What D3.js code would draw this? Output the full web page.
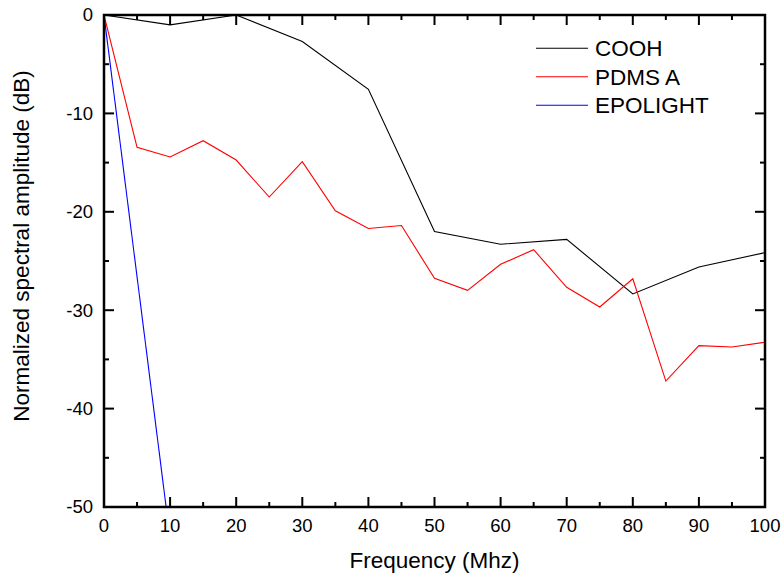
<!DOCTYPE html>
<html>
<head>
<meta charset="utf-8">
<script src="https://cdn.jsdelivr.net/npm/d3@7"></script>
<style>
  body { margin: 0; background: #fff; }
  text { font-family: "Liberation Sans", Arial, sans-serif; fill: #000; }
</style>
</head>
<body>
<div id="chart"></div>
<script>
// Data
var coohFreq = [0, 10, 20, 30, 40, 50, 60, 70, 80, 90, 100];
var coohAmp = [0, -1.0, 0, -2.7, -7.55, -22.0, -23.3, -22.8, -28.35, -25.6, -24.15];

var pdmsFreq = [0, 5, 10, 15, 20, 25, 30, 35, 40, 45, 50, 55, 60, 65, 70, 75, 80, 85, 90, 95, 100];
var pdmsAmp = [0, -13.45, -14.43, -12.77, -14.74, -18.5, -14.9, -19.9, -21.7, -21.4,
  -26.76, -27.98, -25.34, -23.85, -27.67, -29.67, -26.8, -37.2, -33.6, -33.74, -33.26];

var epoFreq = [0, 10];
var epoAmp = [0, -53.2];

var seriesNames = ["COOH", "PDMS A", "EPOLIGHT"];
var seriesColors = ["#000000", "#ff0000", "#0000ff"];

var xTicks = [0, 10, 20, 30, 40, 50, 60, 70, 80, 90, 100];
var yTicks = [0, -10, -20, -30, -40, -50];

// SVG and chart dimensions
var svgWidth = 784;
var svgHeight = 579;
var margin = { top: 15, right: 19, bottom: 72, left: 104 };
var chartWidth = svgWidth - margin.left - margin.right;
var chartHeight = svgHeight - margin.top - margin.bottom;

var svg = d3.select("#chart")
  .append("svg")
  .attr("width", svgWidth)
  .attr("height", svgHeight);

var chartGroup = svg.append("g")
  .attr("transform", `translate(${margin.left}, ${margin.top})`);

// Scales
var xScale = d3.scaleLinear().domain([0, 100]).range([0, chartWidth]);
var yScale = d3.scaleLinear().domain([-50, 0]).range([chartHeight, 0]);

// clip so the steep blue line stops at the frame
chartGroup.append("clipPath")
  .attr("id", "plotClip")
  .append("rect")
  .attr("width", chartWidth)
  .attr("height", chartHeight);

// Lines
var lineGen = d3.line()
  .x(d => xScale(d[0]))
  .y(d => yScale(d[1]));

var allSeries = [
  d3.zip(coohFreq, coohAmp),
  d3.zip(pdmsFreq, pdmsAmp),
  d3.zip(epoFreq, epoAmp)
];

chartGroup.append("g")
  .attr("clip-path", "url(#plotClip)")
  .selectAll("path")
  .data(allSeries)
  .enter()
  .append("path")
  .attr("d", lineGen)
  .attr("fill", "none")
  .attr("stroke", (d, i) => seriesColors[i])
  .attr("stroke-width", 1.1);

// Ticks: inward on all four sides, major every 10, minor every 5
var xAll = d3.range(0, 101, 5);
var yAll = d3.range(-50, 1, 5);
var tickLen = v => (v % 10 === 0 ? 10 : 5);

var tickGroup = chartGroup.append("g")
  .attr("stroke", "#000")
  .attr("stroke-width", 2);

// bottom + top
tickGroup.selectAll(".xb")
  .data(xAll)
  .enter()
  .append("line")
  .attr("x1", d => xScale(d))
  .attr("x2", d => xScale(d))
  .attr("y1", chartHeight)
  .attr("y2", d => chartHeight - tickLen(d));

tickGroup.selectAll(".xt")
  .data(xAll)
  .enter()
  .append("line")
  .attr("x1", d => xScale(d))
  .attr("x2", d => xScale(d))
  .attr("y1", 0)
  .attr("y2", d => tickLen(d));

// left + right
tickGroup.selectAll(".yl")
  .data(yAll)
  .enter()
  .append("line")
  .attr("y1", d => yScale(d))
  .attr("y2", d => yScale(d))
  .attr("x1", 0)
  .attr("x2", d => tickLen(d));

tickGroup.selectAll(".yr")
  .data(yAll)
  .enter()
  .append("line")
  .attr("y1", d => yScale(d))
  .attr("y2", d => yScale(d))
  .attr("x1", chartWidth)
  .attr("x2", d => chartWidth - tickLen(d));

// tick labels
chartGroup.selectAll(".xlabel")
  .data(xTicks)
  .enter()
  .append("text")
  .attr("x", d => xScale(d))
  .attr("y", chartHeight + 25)
  .attr("text-anchor", "middle")
  .attr("font-size", "18.5px")
  .text(d => String(d));

chartGroup.selectAll(".ylabel")
  .data(yTicks)
  .enter()
  .append("text")
  .attr("x", -11)
  .attr("y", d => yScale(d))
  .attr("dy", "0.35em")
  .attr("text-anchor", "end")
  .attr("font-size", "18.5px")
  .text(d => String(d));

// frame
chartGroup.append("rect")
  .attr("width", chartWidth)
  .attr("height", chartHeight)
  .attr("fill", "none")
  .attr("stroke", "#000")
  .attr("stroke-width", 2.5);

// Axis titles
svg.append("text")
  .attr("x", margin.left + chartWidth / 2)
  .attr("y", 568)
  .attr("text-anchor", "middle")
  .attr("font-size", "22.5px")
  .text("Frequency (Mhz)");

svg.append("text")
  .attr("transform", "translate(29, 246) rotate(-90)")
  .attr("text-anchor", "middle")
  .attr("font-size", "22.5px")
  .text("Normalized spectral amplitude (dB)");

// Legend
var legend = svg.append("g")
  .selectAll("g")
  .data(seriesNames)
  .enter()
  .append("g")
  .attr("transform", (d, i) => `translate(536, ${48.3 + i * 28.5})`);

legend.append("line")
  .attr("x1", 0)
  .attr("x2", 52)
  .attr("stroke", (d, i) => seriesColors[i])
  .attr("stroke-width", 1.1);

legend.append("text")
  .attr("x", 59)
  .attr("y", 8)
  .attr("font-size", "22.5px")
  .text(d => d);
</script>
</body>
</html>
